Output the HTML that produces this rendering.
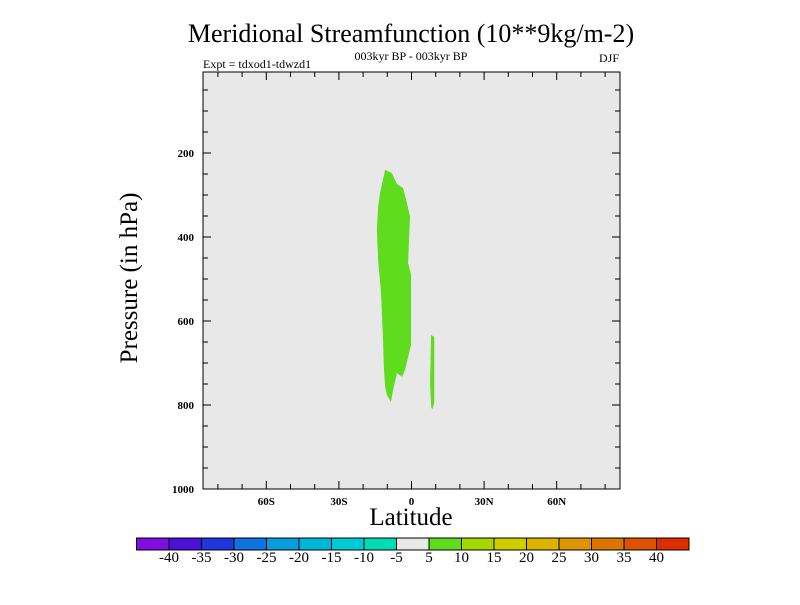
<!DOCTYPE html>
<html><head><meta charset="utf-8"><style>
body{margin:0;background:#fff;}
svg text{font-family:"Liberation Serif",serif;fill:#000;}
</style></head><body>
<svg id="c" width="800" height="600" xmlns="http://www.w3.org/2000/svg">
<text x="411" y="42" text-anchor="middle" font-size="26">Meridional Streamfunction (10**9kg/m-2)</text>
<text x="411" y="60" text-anchor="middle" font-size="12">003kyr BP - 003kyr BP</text>
<text x="203" y="68" font-size="12">Expt = tdxod1-tdwzd1</text>
<text x="619" y="62" text-anchor="end" font-size="12">DJF</text>
<text transform="translate(137,278) rotate(-90)" text-anchor="middle" font-size="25">Pressure (in hPa)</text>
<text x="411" y="525" text-anchor="middle" font-size="25">Latitude</text>
<g id="plot"></g>
<g id="cbar"></g>
</svg>
<script>
const latTicks=[-60,-30,0,30,60];
const latLabels=["60S","30S","0","30N","60N"];
const presTicks=[200,400,600,800,1000];
const shapeLat=[-10.9,-8.1,-6.0,-3.5,-1.9,-0.6,-1.0,-1.4,-0.2,-0.2,-1.4,-2.7,-3.9,-6.0,-7.6,-8.5,-10.1,-10.9,-11.4,-11.8,-12.6,-13.8,-14.3,-13.8,-13.0,-11.8];
const shapePres=[240,248,274,283,319,352,402,462,490,657,686,717,733,724,764,793,776,757,712,638,533,455,383,329,295,264];
const shape2Lat=[8.1,9.4,9.4,8.6,8.1,7.7];
const shape2Pres=[633,638,795,810,805,745];
const cbarLabels=["-40","-35","-30","-25","-20","-15","-10","-5","5","10","15","20","25","30","35","40"];
const cbarColors=["#800ee0","#4a12d8","#1e38dc","#1074e0","#0a9cdc","#00b6d8","#00cad4","#00dcb4","#e8e8e8","#60dc1e","#a4d800","#d0cc00","#dcb400","#dc9400","#dc7400","#dc5200","#dc2c00"];
const NS="http://www.w3.org/2000/svg";
const L=203,R=620,T=72,B=489;
const xs=lat=>411.5+lat*2.42;
const ys=p=>153+(p-200)*0.42;
function mk(tag,attrs,parent){const e=document.createElementNS(NS,tag);for(const k in attrs)e.setAttribute(k,attrs[k]);parent.appendChild(e);return e;}
const plot=document.getElementById('plot');
const bg=mk('rect',{x:L,y:T,width:R-L,height:B-T,fill:'#e8e8e8'},plot);


const p1=mk('polygon',{points:shapeLat.map((v,i)=>xs(v)+','+ys(shapePres[i])).join(' '),fill:'#60dc1e'},plot);


const p2=mk('polygon',{points:shape2Lat.map((v,i)=>xs(v)+','+ys(shape2Pres[i])).join(' '),fill:'#60dc1e'},plot);


const fr=mk('rect',{x:L,y:T,width:R-L,height:B-T,fill:'none',stroke:'#000','stroke-width':1},plot);


// x ticks
for(let lat=-80;lat<=80;lat+=10){
  const x=xs(lat);const major=lat%30===0;const len=major?8:5;
  mk('line',{x1:x,x2:x,y1:B,y2:B-len,stroke:'#000'},plot);
  mk('line',{x1:x,x2:x,y1:T,y2:T+len,stroke:'#000'},plot);
}
latTicks.forEach((v,i)=>{const t=mk('text',{x:xs(v),y:B+16,'text-anchor':'middle','font-size':11,'font-weight':'bold'},plot);t.textContent=latLabels[i];

});
// y ticks
for(let p=50;p<=1000;p+=50){
  const y=ys(p);if(y<T)continue;const major=p%200===0;const len=major?8:5;
  mk('line',{x1:L,x2:L+len,y1:y,y2:y,stroke:'#000'},plot);
  mk('line',{x1:R,x2:R-len,y1:y,y2:y,stroke:'#000'},plot);
}
presTicks.forEach(v=>{const t=mk('text',{x:L-9,y:ys(v)+4,'text-anchor':'end','font-size':11,'font-weight':'bold'},plot);t.textContent=v;

});
// colorbar
const cb=document.getElementById('cbar');
const cx0=136.5,cw=(689-136.5)/cbarColors.length,cy=538,ch=12;
cbarColors.forEach((c,i)=>{const r=mk('rect',{x:cx0+i*cw,y:cy,width:cw,height:ch,fill:c,stroke:'#000','stroke-width':1},cb);

});
cbarLabels.forEach((s,i)=>{const t=mk('text',{x:cx0+(i+1)*cw,y:562,'text-anchor':'middle','font-size':15},cb);t.textContent=s;

});
</script>
</body></html>
